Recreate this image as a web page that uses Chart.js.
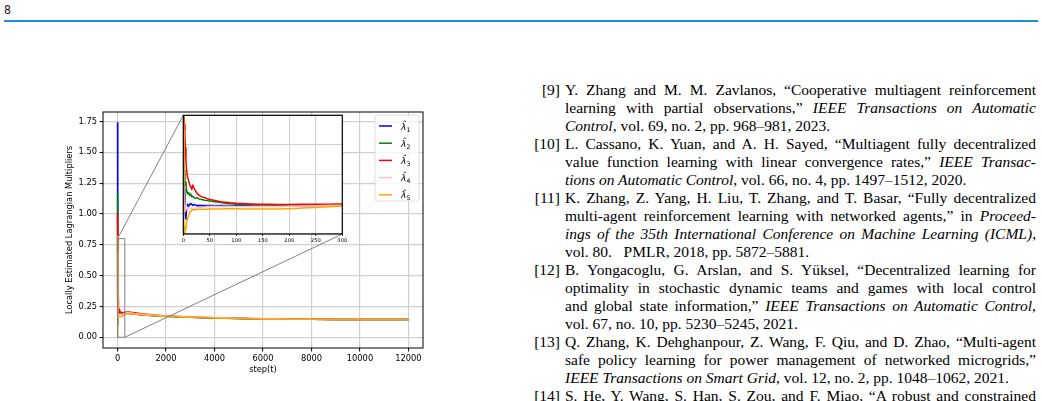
<!DOCTYPE html>
<html>
<head>
<meta charset="utf-8">
<script src="https://cdn.jsdelivr.net/npm/chart.js@4.4.1/dist/chart.umd.min.js"></script>
<style>
  html, body { margin: 0; padding: 0; background: #fff; }
  #page { position: relative; width: 1042px; height: 401px; overflow: hidden; }
  #pno { position: absolute; left: 4px; top: 3px; font: 12px "Liberation Sans Narrow", "DejaVu Sans Condensed", sans-serif; color: #222; }
  #rule { position: absolute; left: 4px; top: 20px; width: 1034px; height: 2px; background: #1a8fdb; }
  #main { position: absolute; left: 0; top: 0; }
  #inset { position: absolute; left: 170px; top: 110px; }
  #refs { position: absolute; left: 530px; top: 81px; width: 506px; font: 15.5px/18px "Liberation Serif", "Times New Roman", serif; color: #000; }
  #refs i { font-family: "Liberation Serif", "Times New Roman", serif; font-style: italic; }
  .r { position: relative; padding-left: 35px; }
  .r .n { position: absolute; left: 0; top: 0; width: 30px; text-align: right; }
  .l { text-align: justify; text-align-last: justify; height: 18px; overflow: hidden; }
  .e { text-align: left; text-align-last: left; }
</style>
</head>
<body>
<div id="page">
  <div id="pno">8</div>
  <div id="rule"></div>
  <canvas id="main" width="440" height="401"></canvas>
  <canvas id="inset" width="180" height="140"></canvas>

  <div id="refs">
    <div class="r"><span class="n">[9]</span>
      <div class="l">Y. Zhang and M. M. Zavlanos, “Cooperative multiagent reinforcement</div>
      <div class="l">learning with partial observations,” <i>IEEE Transactions on Automatic</i></div>
      <div class="l e"><i>Control</i>, vol. 69, no. 2, pp. 968–981, 2023.</div>
    </div>
    <div class="r"><span class="n">[10]</span>
      <div class="l">L. Cassano, K. Yuan, and A. H. Sayed, “Multiagent fully decentralized</div>
      <div class="l">value function learning with linear convergence rates,” <i>IEEE Transac-</i></div>
      <div class="l e"><i>tions on Automatic Control</i>, vol. 66, no. 4, pp. 1497–1512, 2020.</div>
    </div>
    <div class="r"><span class="n">[11]</span>
      <div class="l">K. Zhang, Z. Yang, H. Liu, T. Zhang, and T. Basar, “Fully decentralized</div>
      <div class="l">multi-agent reinforcement learning with networked agents,” in <i>Proceed-</i></div>
      <div class="l"><i>ings of the 35th International Conference on Machine Learning (ICML)</i>,</div>
      <div class="l e">vol. 80.&nbsp;&nbsp;&nbsp;PMLR, 2018, pp. 5872–5881.</div>
    </div>
    <div class="r"><span class="n">[12]</span>
      <div class="l">B. Yongacoglu, G. Arslan, and S. Yüksel, “Decentralized learning for</div>
      <div class="l">optimality in stochastic dynamic teams and games with local control</div>
      <div class="l">and global state information,” <i>IEEE Transactions on Automatic Control</i>,</div>
      <div class="l e">vol. 67, no. 10, pp. 5230–5245, 2021.</div>
    </div>
    <div class="r"><span class="n">[13]</span>
      <div class="l">Q. Zhang, K. Dehghanpour, Z. Wang, F. Qiu, and D. Zhao, “Multi-agent</div>
      <div class="l">safe policy learning for power management of networked microgrids,”</div>
      <div class="l e"><i>IEEE Transactions on Smart Grid</i>, vol. 12, no. 2, pp. 1048–1062, 2021.</div>
    </div>
    <div class="r"><span class="n">[14]</span>
      <div class="l">S. He, Y. Wang, S. Han, S. Zou, and F. Miao, “A robust and constrained</div>
    </div>
  </div>
</div>

<script>
  // steps at which the curves were sampled (dense at the start, sparse later)
  var steps = [0, 1, 2, 3, 4, 5, 6, 8, 10, 12, 14, 16, 18, 20, 23, 26, 30, 35, 40, 45,
    50, 60, 70, 80, 90, 100, 120, 140, 160, 180, 200, 225, 250, 275, 300,
    400, 500, 700, 1000, 1500, 2000, 3000, 4000, 5000, 6000, 7000, 8000, 9000, 10000, 11000, 12000];

  var lambda1 = [1.74, 0.55, 0.30, 0.20, 0.13, 0.10, 0.16, 0.20, 0.185, 0.20, 0.205, 0.198, 0.193, 0.20, 0.195, 0.19, 0.192, 0.19, 0.19, 0.188,
    0.19, 0.188, 0.19, 0.189, 0.188, 0.19, 0.19, 0.188, 0.188, 0.19, 0.19, 0.19, 0.192, 0.194, 0.195,
    0.196, 0.193, 0.188, 0.182, 0.175, 0.17, 0.163, 0.157, 0.152, 0.149, 0.147, 0.146, 0.145, 0.145, 0.144, 0.144];
  var lambda2 = [1.16, 0.62, 0.43, 0.36, 0.33, 0.35, 0.30, 0.27, 0.28, 0.26, 0.27, 0.25, 0.255, 0.245, 0.24, 0.245, 0.235, 0.232, 0.228, 0.225,
    0.222, 0.218, 0.212, 0.208, 0.204, 0.201, 0.198, 0.195, 0.194, 0.193, 0.194, 0.195, 0.196, 0.197, 0.198,
    0.197, 0.194, 0.189, 0.183, 0.176, 0.171, 0.163, 0.157, 0.152, 0.149, 0.147, 0.146, 0.145, 0.145, 0.144, 0.144];
  var lambda3 = [1.00, 0.86, 0.74, 0.665, 0.58, 0.50, 0.44, 0.38, 0.36, 0.33, 0.32, 0.30, 0.33, 0.31, 0.29, 0.275, 0.26, 0.25, 0.245, 0.238,
    0.232, 0.226, 0.218, 0.214, 0.21, 0.207, 0.204, 0.201, 0.20, 0.199, 0.199, 0.20, 0.20, 0.201, 0.202,
    0.206, 0.204, 0.198, 0.19, 0.18, 0.173, 0.165, 0.159, 0.154, 0.15, 0.147, 0.146, 0.145, 0.145, 0.144, 0.144];
  var lambda4 = [0.70, 0.32, 0.20, 0.15, 0.16, 0.18, 0.19, 0.17, 0.18, 0.175, 0.17, 0.172, 0.17, 0.172, 0.175, 0.176, 0.178, 0.18, 0.182, 0.183,
    0.185, 0.185, 0.186, 0.186, 0.186, 0.186, 0.186, 0.185, 0.185, 0.186, 0.187, 0.188, 0.19, 0.192, 0.194,
    0.20, 0.199, 0.193, 0.186, 0.178, 0.172, 0.165, 0.16, 0.155, 0.15, 0.147, 0.146, 0.145, 0.145, 0.144, 0.144];
  var lambda5 = [0.82, 0.00, 0.03, 0.00, 0.05, 0.03, 0.08, 0.10, 0.12, 0.148, 0.15, 0.16, 0.162, 0.164, 0.163, 0.165, 0.166, 0.166, 0.167, 0.167,
    0.168, 0.168, 0.169, 0.17, 0.17, 0.17, 0.169, 0.168, 0.168, 0.169, 0.171, 0.175, 0.179, 0.184, 0.188,
    0.19, 0.19, 0.187, 0.181, 0.175, 0.17, 0.163, 0.157, 0.152, 0.149, 0.147, 0.146, 0.145, 0.145, 0.144, 0.144];

  var seriesNames = ['1', '2', '3', '4', '5'];   // subscripts of lambda-hat
  var seriesValues = [lambda1, lambda2, lambda3, lambda4, lambda5];
  var seriesColors = ['#0000ff', '#008000', '#ff0000', '#ffc0cb', '#ffa500'];

  var xTicks = [0, 2000, 4000, 6000, 8000, 10000, 12000];
  var yTicks = [0, 0.25, 0.5, 0.75, 1.0, 1.25, 1.5, 1.75];
  var insetXTicks = [0, 50, 100, 150, 200, 250, 300];
  var insetYTicks = [0, 0.2, 0.4, 0.6, 0.8];
  var insetXRange = [0, 300];
  var insetYRange = [0, 0.8];

  Chart.defaults.font.family = '"DejaVu Sans", sans-serif';
  Chart.defaults.color = '#000';

  var gridColor = '#d0d0d0';

  function makeSets(clip) {
    return seriesValues.map(function (vals, i) {
      return {
        label: 'λ̂' + seriesNames[i],
        data: steps.map(function (s, k) { return { x: s, y: vals[k] }; }),
        borderColor: seriesColors[i],
        backgroundColor: seriesColors[i],
        borderWidth: 1.5,
        pointRadius: 0,
        tension: 0,
        borderJoinStyle: 'round',
        fill: false,
        order: 4 - i,
        clip: clip
      };
    });
  }

  function setTicks(list) {
    return function (scale) { scale.ticks = list.map(function (v) { return { value: v }; }); };
  }

  // inset: white background and black frame
  var insetFrame = {
    id: 'insetFrame',
    beforeDraw: function (chart) {
      var a = chart.chartArea, ctx = chart.ctx;
      ctx.save();
      ctx.fillStyle = '#fff';
      ctx.fillRect(a.left, a.top, a.right - a.left, a.bottom - a.top);
      ctx.restore();
    },
    afterDraw: function (chart) {
      var a = chart.chartArea, ctx = chart.ctx;
      ctx.save();
      ctx.strokeStyle = '#000';
      ctx.lineWidth = 1.2;
      ctx.strokeRect(a.left, a.top, a.right - a.left, a.bottom - a.top);
      ctx.restore();
    }
  };

  var insetCanvas = document.getElementById('inset');
  var insetChart = new Chart(insetCanvas, {
    type: 'line',
    data: { datasets: makeSets(0) },
    options: {
      responsive: false,
      animation: false,
      layout: { padding: { left: 13.3, right: 7.7, top: 5.3, bottom: 2 } },
      plugins: { legend: { display: false }, tooltip: { enabled: false } },
      scales: {
        x: {
          type: 'linear', min: insetXRange[0], max: insetXRange[1],
          afterBuildTicks: setTicks(insetXTicks),
          afterFit: function (s) { s.height = 14; },
          border: { display: false },
          grid: { color: gridColor, lineWidth: 1.1, tickColor: '#000', tickLength: 2, tickWidth: 0.8 },
          ticks: { font: { size: 5.2 }, padding: 2, maxRotation: 0, autoSkip: false }
        },
        y: {
          type: 'linear', min: insetYRange[0], max: insetYRange[1],
          afterBuildTicks: setTicks(insetYTicks),
          afterFit: function (s) { s.width = 0; },
          border: { display: false },
          grid: { color: gridColor, lineWidth: 1.1, drawTicks: false },
          ticks: { display: false }
        }
      }
    },
    plugins: [insetFrame]
  });

  // main: zoom rectangle + connector lines to the inset corners
  var zoomMark = {
    id: 'zoomMark',
    afterDatasetsDraw: function (chart) {
      var xs = chart.scales.x, ys = chart.scales.y, ctx = chart.ctx;
      var x0 = xs.getPixelForValue(insetXRange[0]), x1 = xs.getPixelForValue(insetXRange[1]);
      var y0 = ys.getPixelForValue(insetYRange[0]), y1 = ys.getPixelForValue(insetYRange[1]);
      var ia = insetChart.chartArea;
      var ox = insetCanvas.offsetLeft, oy = insetCanvas.offsetTop;
      ctx.save();
      ctx.strokeStyle = '#808080';
      ctx.lineWidth = 1;
      ctx.strokeRect(x0, y1, x1 - x0, y0 - y1);
      ctx.beginPath();
      ctx.moveTo(x0, y1);
      ctx.lineTo(ox + ia.left, oy + ia.top);
      ctx.moveTo(x1, y0);
      ctx.lineTo(ox + ia.right, oy + ia.bottom);
      ctx.stroke();
      ctx.restore();
    }
  };

  // main: four spines + legend box
  var mainFrame = {
    id: 'mainFrame',
    afterDraw: function (chart) {
      var a = chart.chartArea, ctx = chart.ctx;
      ctx.save();
      ctx.strokeStyle = '#000';
      ctx.lineWidth = 1;
      ctx.strokeRect(a.left, a.top, a.right - a.left, a.bottom - a.top);

      var w = 44, h = 86, bx = a.right - 4 - w, by = a.top + 3, r = 2;
      ctx.beginPath();
      ctx.moveTo(bx + r, by);
      ctx.lineTo(bx + w - r, by); ctx.quadraticCurveTo(bx + w, by, bx + w, by + r);
      ctx.lineTo(bx + w, by + h - r); ctx.quadraticCurveTo(bx + w, by + h, bx + w - r, by + h);
      ctx.lineTo(bx + r, by + h); ctx.quadraticCurveTo(bx, by + h, bx, by + h - r);
      ctx.lineTo(bx, by + r); ctx.quadraticCurveTo(bx, by, bx + r, by);
      ctx.closePath();
      ctx.fillStyle = 'rgba(255,255,255,0.8)';
      ctx.fill();
      ctx.strokeStyle = '#d6d6d6';
      ctx.lineWidth = 0.8;
      ctx.stroke();

      chart.data.datasets.forEach(function (ds, i) {
        var ly = by + 11 + i * 17.2;
        ctx.strokeStyle = ds.borderColor;
        ctx.lineWidth = 1.5;
        ctx.beginPath();
        ctx.moveTo(bx + 4, ly);
        ctx.lineTo(bx + 17, ly);
        ctx.stroke();
        ctx.fillStyle = '#000';
        ctx.textBaseline = 'alphabetic';
        ctx.textAlign = 'left';
        ctx.font = 'italic 9px "DejaVu Sans"';
        var tx = bx + 26;
        ctx.fillText('λ\u0302', tx, ly + 3.5);
        var lw = ctx.measureText('λ').width;
        ctx.font = '6.2px "DejaVu Sans"';
        ctx.fillText(seriesNames[i], tx + lw + 0.2, ly + 5.5);
      });
      ctx.restore();
    }
  };

  var mainChart = new Chart(document.getElementById('main'), {
    type: 'line',
    data: { datasets: makeSets(undefined) },
    options: {
      responsive: false,
      animation: false,
      layout: { padding: { left: 63, right: 17, top: 112, bottom: 25 } },
      plugins: { legend: { display: false }, tooltip: { enabled: false } },
      scales: {
        x: {
          type: 'linear', min: -600, max: 12600,
          afterBuildTicks: setTicks(xTicks),
          afterFit: function (s) { s.height = 28; },
          border: { display: false },
          grid: { color: gridColor, lineWidth: 1.2, tickColor: '#000', tickLength: 3.5, tickWidth: 1 },
          ticks: { font: { size: 8.3 }, padding: 2, maxRotation: 0, autoSkip: false,
                   callback: function (v) { return String(v); } },
          title: { display: true, text: 'step(t)', font: { size: 8.3 }, padding: { top: 0, bottom: 1 } }
        },
        y: {
          type: 'linear', min: -0.087, max: 1.827,
          afterBuildTicks: setTicks(yTicks),
          afterFit: function (s) { s.width = 40; },
          border: { display: false },
          grid: { color: gridColor, lineWidth: 1.2, tickColor: '#000', tickLength: 3.5, tickWidth: 1 },
          ticks: { font: { size: 8.3 }, padding: 2.5, autoSkip: false,
                   callback: function (v) { return v.toFixed(2); } },
          title: { display: true, text: 'Locally Estimated Lagrangian Multipliers', font: { size: 8.3 }, padding: { top: 1.5, bottom: 0 } }
        }
      }
    },
    plugins: [zoomMark, mainFrame]
  });
</script>
</body>
</html>
